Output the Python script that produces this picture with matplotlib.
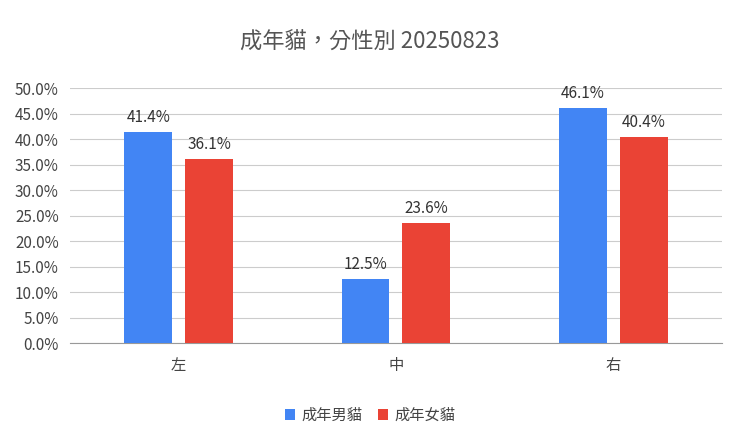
import matplotlib
matplotlib.use("Agg")
import matplotlib.pyplot as plt
import numpy as np
from matplotlib.ticker import PercentFormatter

plt.rcParams['font.family'] = ['Noto Sans CJK TC', 'DejaVu Sans']

categories = ['左', '中', '右']
series_names = ['成年男貓', '成年女貓']
male = [41.4, 12.5, 46.1]
female = [36.1, 23.6, 40.4]
colors = ['#4285F4', '#EA4335']

fig = plt.figure(figsize=(7.4, 4.45), dpi=100)
ax = fig.add_axes([0.0946, 0.229, 0.881, 0.573])
x = np.arange(len(categories))
w = 0.22
off = 0.14
b1 = ax.bar(x - off, male, w, color=colors[0], label=series_names[0], zorder=3)
b2 = ax.bar(x + off, female, w, color=colors[1], label=series_names[1], zorder=3)
for bars, vals in ((b1, male), (b2, female)):
    for r, v in zip(bars, vals):
        ax.text(r.get_x() + r.get_width()/2, v + 1.2, f'{v:.1f}%', ha='center', va='bottom',
                fontsize=11, color='#333333')
ax.set_xlim(-0.5, 2.5)
ax.set_ylim(0, 50)
ax.set_yticks(np.arange(0, 50.1, 5))
ax.yaxis.set_major_formatter(PercentFormatter(decimals=1))
ax.set_xticks(x)
ax.set_xticklabels(categories)
ax.grid(axis='y', color='#cccccc', linewidth=0.8, zorder=0)
for s in ['top', 'right', 'left']:
    ax.spines[s].set_visible(False)
ax.spines['bottom'].set_color('#999999')
ax.tick_params(axis='y', length=0, labelsize=11, colors='#444444', pad=8)
ax.tick_params(axis='x', length=0, labelsize=11, colors='#444444', pad=10)
fig.text(0.5, 0.905, '成年貓，分性別 20250823', ha='center', va='center', fontsize=16, color='#555555')
fig.legend(handles=[b1, b2], loc='center', bbox_to_anchor=(0.5, 0.067), ncol=2, frameon=False,
           fontsize=11, handlelength=0.7, handleheight=0.7, columnspacing=1.0, handletextpad=0.4,
           labelcolor='#444444')
fig.savefig('out.png', dpi=100)
